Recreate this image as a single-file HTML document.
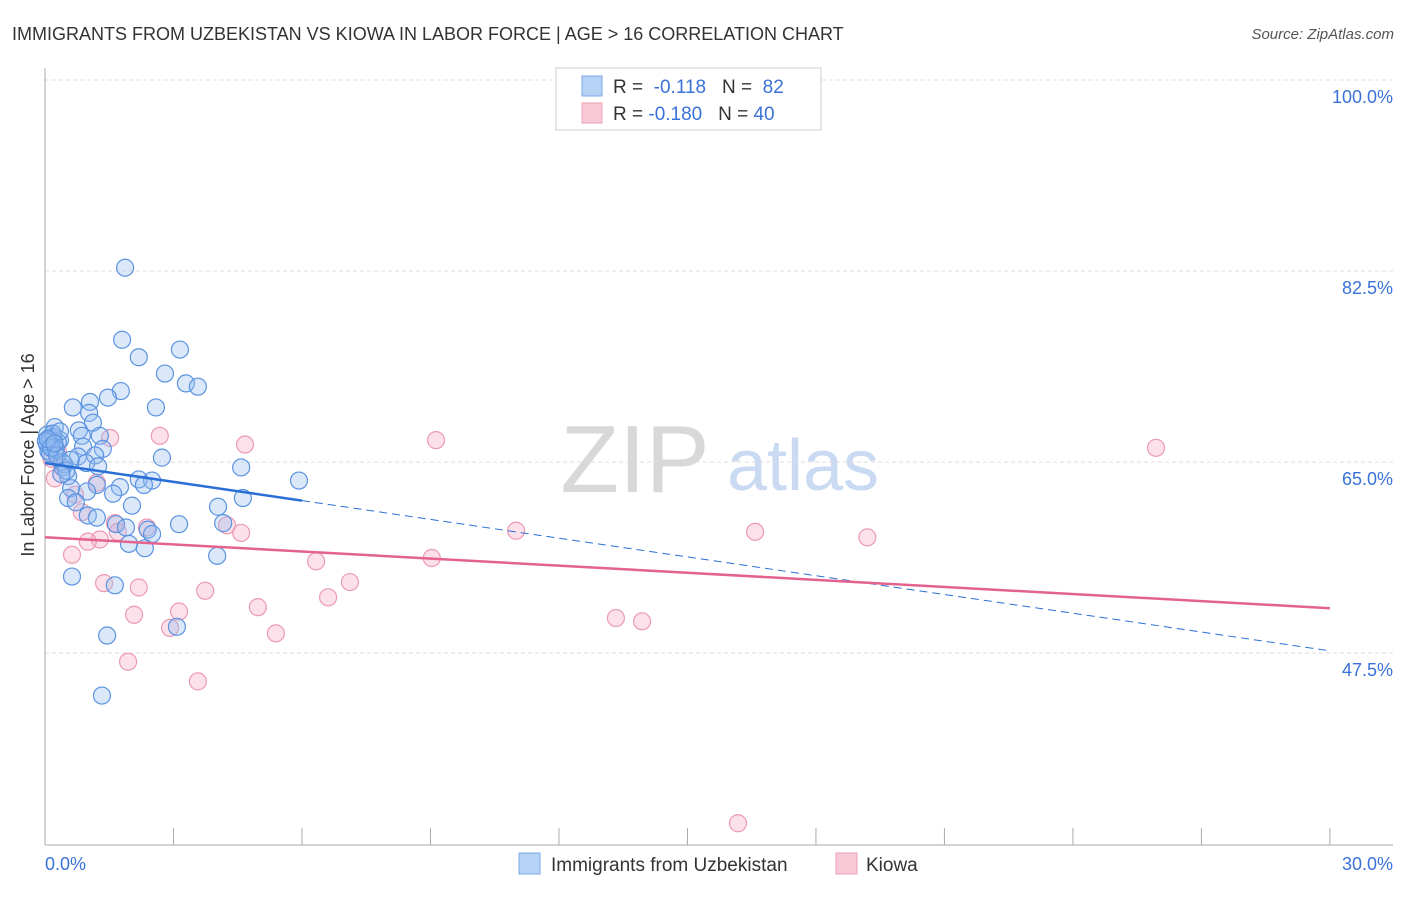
<!DOCTYPE html>
<html><head><meta charset="utf-8"><style>
body{margin:0;background:#fff;font-family:"Liberation Sans",sans-serif;}
svg text{font-family:"Liberation Sans",sans-serif;}
</style></head><body>
<svg width="1406" height="892" xmlns="http://www.w3.org/2000/svg">
<text x="12" y="40" font-size="18" fill="#333">IMMIGRANTS FROM UZBEKISTAN VS KIOWA IN LABOR FORCE | AGE &gt; 16 CORRELATION CHART</text>
<text x="1394" y="39" font-size="15" fill="#555" font-style="italic" text-anchor="end">Source: ZipAtlas.com</text>
<g>
<text x="635" y="492" font-size="96" fill="#d8d8d8" font-family="Liberation Serif" text-anchor="middle">ZIP</text>
<text x="803" y="490" font-size="72" fill="#c9daf2" text-anchor="middle">atlas</text>
</g>
<g id="grid"></g>
<g id="axes"></g>
<g id="marks"></g>
<text transform="translate(34,455) rotate(-90)" font-size="18" fill="#333" text-anchor="middle">In Labor Force | Age &gt; 16</text>
<g>
<rect x="556" y="68" width="265" height="62" fill="#fff" stroke="#ccc"/>
<rect x="582" y="76" width="20" height="20" fill="#b6d2f5" stroke="#7aa8e8"/>
<rect x="582" y="103" width="20" height="20" fill="#f9c9d7" stroke="#eea0b8"/>
<text x="613" y="93" font-size="19" fill="#333">R = <tspan fill="#3a72d8">&#160;-0.118</tspan>&#160;&#160;&#160;N = <tspan fill="#3a72d8">&#160;82</tspan></text>
<text x="613" y="120" font-size="19" fill="#333">R = <tspan fill="#3a72d8">-0.180</tspan>&#160;&#160;&#160;N = <tspan fill="#3a72d8">40</tspan></text>
</g>
<g>
<rect x="519" y="853" width="21" height="21" fill="#b6d2f5" stroke="#7aa8e8"/>
<text x="551" y="871" font-size="19" fill="#333">Immigrants from Uzbekistan</text>
<rect x="836" y="853" width="21" height="21" fill="#f9c9d7" stroke="#eea0b8"/>
<text x="866" y="871" font-size="19" fill="#333">Kiowa</text>
</g>
</svg>
<script>
const xTicks=[0,3,6,9,12,15,18,21,24,27,30];
const yTicks=[100,82.5,65,47.5];
const yTickLabels=["100.0%","82.5%","65.0%","47.5%"];
const blueX=[1.87,1.80,2.19,3.15,2.80,3.29,3.57,1.77,1.47,0.65,1.05,2.59,1.03,1.12,0.23,0.79,1.28,0.86,0.35,0.12,0.05,0.23,0.89,1.35,1.17,0.77,2.73,0.96,1.24,0.42,4.58,0.54,2.19,5.93,2.50,2.31,1.21,0.61,0.98,1.75,1.59,0.54,4.62,0.72,2.03,4.04,1.00,1.21,1.66,3.13,4.16,1.89,2.40,2.50,1.96,2.33,4.02,0.63,1.63,1.45,3.08,1.33,0.05,0.10,0.15,0.20,0.08,0.30,0.12,0.18,0.25,0.40,0.45,0.02,0.14,0.35,0.50,0.28,0.06,0.22,0.38,0.60];
const blueY=[82.8,76.2,74.6,75.3,73.1,72.2,71.9,71.5,70.9,70.0,70.5,70.0,69.5,68.6,68.2,67.9,67.4,67.4,67.0,67.2,66.6,66.1,66.4,66.2,65.6,65.5,65.4,64.9,64.6,64.5,64.5,63.7,63.4,63.3,63.3,62.9,62.9,62.6,62.3,62.7,62.1,61.7,61.7,61.3,61.0,60.9,60.1,59.9,59.3,59.3,59.4,59.0,58.8,58.4,57.5,57.1,56.4,54.5,53.7,49.1,49.9,43.6,67.5,67.0,66.5,67.3,66.0,66.8,65.8,67.6,66.2,65.0,64.8,66.9,66.3,67.8,64.2,65.6,67.1,66.7,63.9,65.2];
const pinkX=[25.94,9.13,4.67,2.68,1.52,0.23,1.21,0.86,1.63,2.38,4.25,4.58,1.70,1.28,1.00,0.63,11.0,16.58,19.2,9.03,6.33,7.12,6.61,1.38,2.19,3.74,4.97,3.13,2.08,2.92,5.39,13.33,13.94,1.94,3.57,16.18,0.40,0.15,0.70,0.30];
const pinkY=[66.3,67.0,66.6,67.4,67.2,63.5,63.1,60.4,59.4,59.0,59.2,58.5,58.6,57.9,57.7,56.5,58.7,58.6,58.1,56.2,55.9,54.0,52.6,53.9,53.5,53.2,51.7,51.3,51.0,49.8,49.3,50.7,50.4,46.7,44.9,31.9,64.5,65.3,62.0,66.0];
const blueTrend=[64.9,47.7];
const pinkTrend=[58.1,51.6];
const X=v=>45+v*42.83, Y=v=>80+(100-v)*10.914;
const NS="http://www.w3.org/2000/svg";
function mk(tag,attrs,parent){const e=document.createElementNS(NS,tag);for(const k in attrs)e.setAttribute(k,attrs[k]);parent.appendChild(e);return e;}
const grid=document.getElementById('grid'),axes=document.getElementById('axes'),marks=document.getElementById('marks');
yTicks.forEach((t,i)=>{
 const l=mk('line',{x1:45,x2:1393,y1:Y(t),y2:Y(t),stroke:'#ddd','stroke-dasharray':'4,3'},grid);
 
 
 const tx=mk('text',{x:1393,y:Y(t)+23,'font-size':18,fill:'#3a72d8','text-anchor':'end'},axes);
 tx.textContent=yTickLabels[i];
 
 
});
const ax=mk('line',{x1:45,x2:45,y1:68,y2:845,stroke:'#aaa'},axes);


const bx=mk('line',{x1:45,x2:1393,y1:845,y2:845,stroke:'#aaa'},axes);


xTicks.forEach(t=>{
 const l=mk('line',{x1:X(t),x2:X(t),y1:828,y2:845,stroke:'#aaa'},axes);
 
 
});
const xl0=mk('text',{x:45,y:870,'font-size':18,fill:'#3a72d8'},axes);xl0.textContent='0.0%';


const xl1=mk('text',{x:1393,y:870,'font-size':18,fill:'#3a72d8','text-anchor':'end'},axes);xl1.textContent='30.0%';


pinkX.forEach((x,i)=>{
 const c=mk('circle',{cx:X(x),cy:Y(pinkY[i]),r:8.5,fill:'rgba(246,170,195,0.35)',stroke:'#eb9ab4','stroke-width':1.2},marks);
 
 
});
blueX.forEach((x,i)=>{
 const c=mk('circle',{cx:X(x),cy:Y(blueY[i]),r:8.5,fill:'rgba(150,190,240,0.35)',stroke:'#5b93e0','stroke-width':1.2},marks);
 
 
});
const bySplit=blueTrend[0]+(blueTrend[1]-blueTrend[0])*6/30;
const b1=mk('line',{x1:X(0),y1:Y(blueTrend[0]),x2:X(6),y2:Y(bySplit),stroke:'#2a6fd6','stroke-width':2.5},marks);


const b2=mk('line',{x1:X(6),y1:Y(bySplit),x2:X(30),y2:Y(blueTrend[1]),stroke:'#2a6fd6','stroke-width':1,'stroke-dasharray':'8,5'},marks);


const p1=mk('line',{x1:X(0),y1:Y(pinkTrend[0]),x2:X(30),y2:Y(pinkTrend[1]),stroke:'#e4628e','stroke-width':2.5},marks);


</script>
</body></html>
